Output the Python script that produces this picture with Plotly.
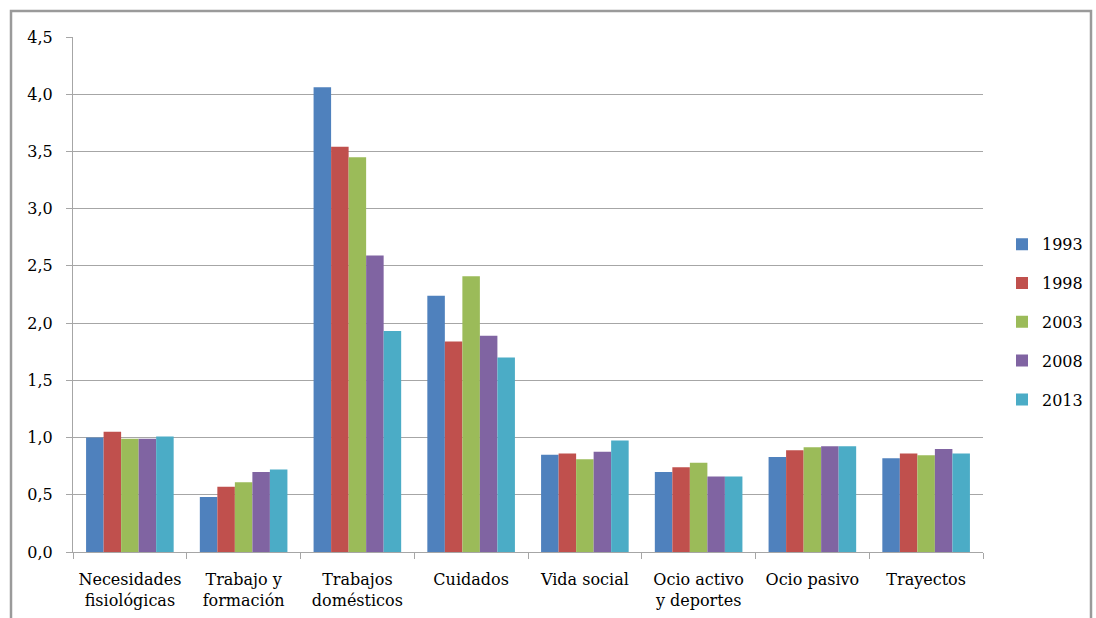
import plotly.graph_objects as go

categories = [
    "Necesidades<br>fisiológicas",
    "Trabajo y<br>formación",
    "Trabajos<br>domésticos",
    "Cuidados",
    "Vida social",
    "Ocio activo<br>y deportes",
    "Ocio pasivo",
    "Trayectos",
]
years = ["1993", "1998", "2003", "2008", "2013"]
v1993 = [1.00, 0.48, 4.06, 2.24, 0.85, 0.70, 0.83, 0.82]
v1998 = [1.05, 0.57, 3.54, 1.84, 0.86, 0.74, 0.89, 0.86]
v2003 = [0.99, 0.61, 3.45, 2.41, 0.81, 0.78, 0.915, 0.845]
v2008 = [0.99, 0.70, 2.59, 1.89, 0.875, 0.66, 0.925, 0.90]
v2013 = [1.01, 0.72, 1.93, 1.70, 0.975, 0.66, 0.925, 0.86]
series = [v1993, v1998, v2003, v2008, v2013]
colors = ["#4F81BD", "#C0504D", "#9BBB59", "#8064A2", "#4BACC6"]

font_family = "DejaVu Serif"
fsize = 16

fig = go.Figure()
for year, vals, col in zip(years, series, colors):
    fig.add_trace(go.Bar(
        x=categories, y=vals, name=year, legendgroup=year,
        marker=dict(color=col, line=dict(width=0)),
    ))

W, H = 1096, 618
ml, mr, mt, mb = 73, 113, 37, 66
pw, ph = W - ml - mr, H - mt - mb

def px_x(x):
    return (x - ml) / pw

def px_y(y):
    return (H - mb - y) / ph

fig.update_layout(
    width=W, height=H,
    margin=dict(l=ml, r=mr, t=mt, b=mb, autoexpand=False),
    paper_bgcolor="white", plot_bgcolor="white",
    separators=",.",
    barmode="group", bargap=0.23, bargroupgap=0,
    font=dict(family=font_family, size=fsize, color="black"),
    showlegend=True,
    legend=dict(
        x=px_x(1002), xanchor="left", y=0.447, yanchor="middle",
        font=dict(family=font_family, size=fsize), tracegroupgap=15,
        itemwidth=30, bgcolor="rgba(0,0,0,0)",
    ),
    xaxis=dict(
        showgrid=False, showline=True, linecolor="#A6A6A6", linewidth=1,
        ticks="outside", tickson="boundaries", ticklen=6, tickcolor="#A6A6A6",
        tickfont=dict(family=font_family, size=fsize), tickangle=0,
        ticklabelstandoff=13, fixedrange=True,
    ),
    yaxis=dict(
        range=[0, 4.5], dtick=0.5, tickformat=".1f",
        showgrid=True, gridcolor="#A6A6A6", gridwidth=1,
        showline=True, linecolor="#A6A6A6", linewidth=1,
        ticks="outside", ticklen=6, tickcolor="#A6A6A6",
        tickfont=dict(family=font_family, size=fsize), ticklabelstandoff=10,
        zeroline=False, fixedrange=True,
    ),
    shapes=[dict(
        type="rect", xref="paper", yref="paper",
        x0=px_x(11), x1=px_x(1091), y0=px_y(640), y1=px_y(11),
        line=dict(color="#9A9A9A", width=2.5), fillcolor="rgba(0,0,0,0)",
        layer="below",
    )],
)

fig.write_html("out.html")
